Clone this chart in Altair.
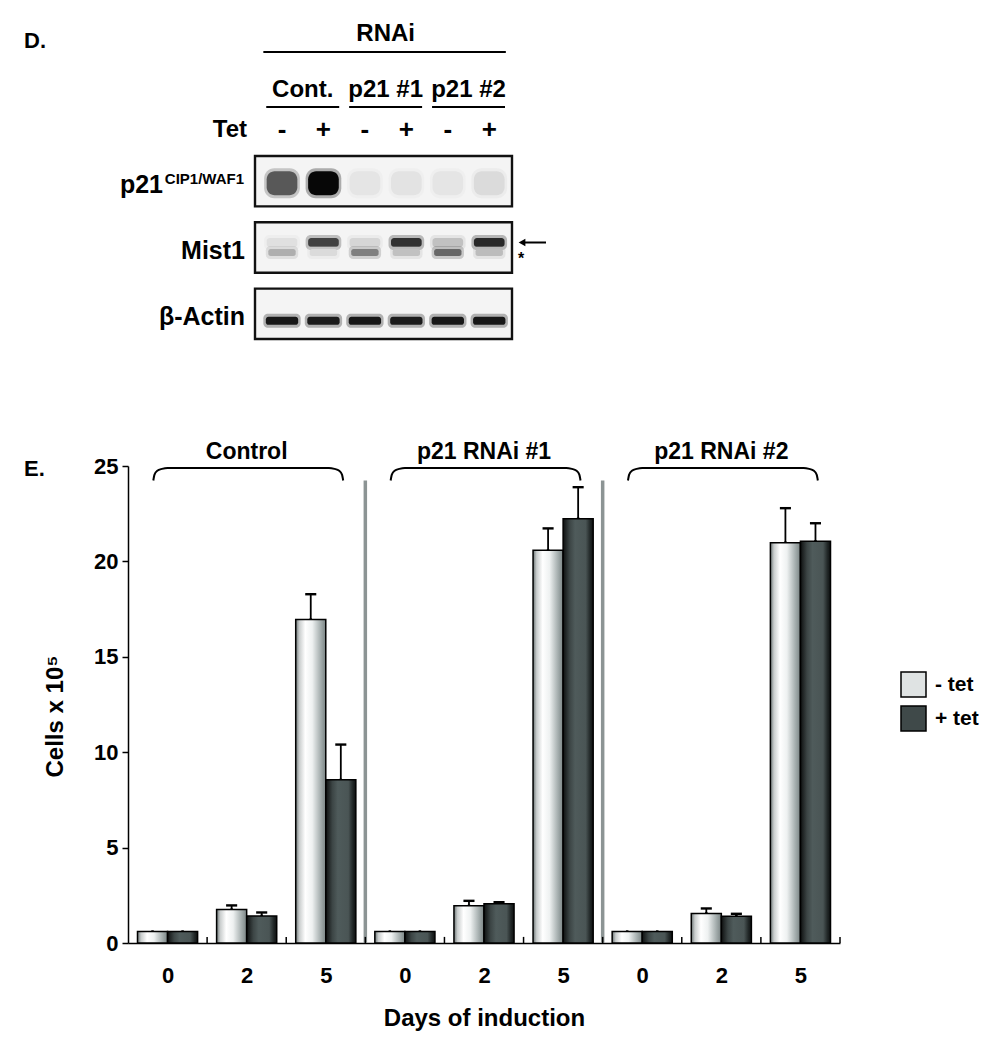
import altair as alt
import pandas as pd

FONT = "Liberation Sans"

# ---------------- Panel E data ----------------
groups = ["Control", "p21 RNAi #1", "p21 RNAi #2"]
days = ["0", "2", "5"]
series = ["- tet", "+ tet"]
minus_tet = [0.6, 1.75, 16.95, 0.6, 1.95, 20.58, 0.6, 1.55, 20.98]
minus_err = [0.0, 0.22, 1.33, 0.0, 0.26, 1.15, 0.0, 0.26, 1.81]
plus_tet = [0.6, 1.42, 8.55, 0.6, 2.06, 22.24, 0.6, 1.40, 21.05]
plus_err = [0.0, 0.18, 1.85, 0.0, 0.08, 1.65, 0.0, 0.13, 0.95]
y_ticks = [0, 5, 10, 15, 20, 25]

# ---------------- Panel D data (blot band intensities, 0..1) ----------------
lanes = [0, 1, 2, 3, 4, 5]
tet_signs = ["-", "+", "-", "+", "-", "+"]
lane_group = ["Cont.", "Cont.", "p21 #1", "p21 #1", "p21 #2", "p21 #2"]
blot_rows = ["p21", "Mist1", "β-Actin"]
p21_band = [0.62, 1.0, 0.04, 0.05, 0.04, 0.08]
mist1_upper = [0.06, 0.72, 0.10, 0.80, 0.18, 0.84]
mist1_lower = [0.25, 0.08, 0.45, 0.18, 0.55, 0.20]
actin_band = [0.93, 0.91, 0.94, 0.91, 0.93, 0.93]

# ---------------- styles ----------------
LIGHT_GRAD = alt.LinearGradient(
    gradient="linear", x1=0, x2=1, y1=0, y2=0,
    stops=[alt.GradientStop(offset=0, color="#6c7575"),
           alt.GradientStop(offset=0.12, color="#c9cdcd"),
           alt.GradientStop(offset=0.32, color="#ffffff"),
           alt.GradientStop(offset=0.55, color="#eef1f1"),
           alt.GradientStop(offset=0.82, color="#a7b0b0"),
           alt.GradientStop(offset=1, color="#7a8484")])
DARK_GRAD = alt.LinearGradient(
    gradient="linear", x1=0, x2=1, y1=0, y2=0,
    stops=[alt.GradientStop(offset=0, color="#0e1010"),
           alt.GradientStop(offset=0.22, color="#3c4545"),
           alt.GradientStop(offset=0.4, color="#4f5b5b"),
           alt.GradientStop(offset=0.75, color="#4a5555"),
           alt.GradientStop(offset=0.9, color="#212727"),
           alt.GradientStop(offset=1, color="#0e1010")])
SEP_COLOR = "#8c9494"

W_E, H_E = 712, 477
W_D, H_D = 384, 183
BOX_LEFT = 127          # blot box left edge inside panel D (px)

# ================= Panel E =================
n_cat = len(groups) * len(days)
rows = []
for i in range(n_cat):
    rows.append(dict(idx=i, s=0, series=series[0], value=minus_tet[i], err=minus_err[i]))
    rows.append(dict(idx=i, s=1, series=series[1], value=plus_tet[i], err=plus_err[i]))
bars = pd.DataFrame(rows)
bars["upper"] = bars["value"] + bars["err"]

PAD, BW, CAP = 0.12, 0.38, 0.07
x_scale = alt.Scale(domain=[0, n_cat], nice=False, zero=False)
days_js = "[" + ",".join(f"'{d}'" for d in days) + "]"
x_axis = alt.Axis(title="Days of induction", values=[i + 0.5 for i in range(n_cat)],
                  labelExpr=f"{days_js}[floor(datum.value) % {len(days)}]",
                  ticks=False, grid=False, labelPadding=22, titlePadding=20,
                  labelFontSize=22, titleFontSize=24, labelAngle=0)
y_scale = alt.Scale(domain=[0, 25], nice=False)
y_axis = alt.Axis(values=y_ticks, title="Cells x 10⁵", tickSize=6, labelPadding=4,
                  titlePadding=26, titleY=250, labelFontSize=22, titleFontSize=24, grid=False)


def X(field):
    return alt.X(f"{field}:Q", scale=x_scale, axis=x_axis)


def Y(field):
    return alt.Y(f"{field}:Q", scale=y_scale, axis=y_axis)


base = alt.Chart(bars).transform_calculate(
    x0=f"datum.idx + {PAD} + {BW} * datum.s",
    x1=f"datum.idx + {PAD} + {BW} * (datum.s + 1)",
    xc=f"datum.idx + {PAD} + {BW} * (datum.s + 0.5)",
    c0=f"datum.idx + {PAD} + {BW} * (datum.s + 0.5) - {CAP}",
    c1=f"datum.idx + {PAD} + {BW} * (datum.s + 0.5) + {CAP}")

legend_pts = base.mark_square(size=1, stroke="black", strokeWidth=1.5, filled=True, opacity=1).encode(
    x=X("xc"), y=Y("value"),
    color=alt.Color("series:N", scale=alt.Scale(domain=series, range=["#dfe3e3", "#3f4949"]),
                    legend=alt.Legend(title=None, orient="none", legendX=772, legendY=205,
                                      symbolType="square", symbolSize=625, symbolOpacity=1,
                                      symbolStrokeColor="black", symbolStrokeWidth=1.5,
                                      labelFontSize=21, labelFontWeight="bold", labelColor="black",
                                      labelOffset=8, rowPadding=3)))
light = base.transform_filter(alt.datum.series == series[0]).mark_bar(
    fill=LIGHT_GRAD, stroke="black", strokeWidth=1.5).encode(
    x=X("x0"), x2="x1:Q", y=Y("value"), y2=alt.datum(0))
dark = base.transform_filter(alt.datum.series == series[1]).mark_bar(
    fill=DARK_GRAD, stroke="black", strokeWidth=1.5).encode(
    x=X("x0"), x2="x1:Q", y=Y("value"), y2=alt.datum(0))
err_rule = base.transform_filter("datum.err > 0").mark_rule(color="black", strokeWidth=1.8).encode(
    x=X("xc"), y=Y("value"), y2="upper:Q")
err_cap = base.transform_filter("datum.err > 0").mark_rule(color="black", strokeWidth=2.4).encode(
    x=X("c0"), x2="c1:Q", y=Y("upper"))

TICK_LEN = 0.32
SEP_TOP = 24.24
boundaries = pd.DataFrame({"pos": list(range(1, n_cat + 1))})
boundaries["y0"] = 0.0
boundaries["y1"] = TICK_LEN
ticks = alt.Chart(boundaries).mark_rule(color="black", strokeWidth=1.5).encode(
    x=X("pos"), y=Y("y0"), y2="y1:Q")

seps_df = pd.DataFrame({"pos": [len(days) * k for k in range(1, len(groups))]})
seps_df["y0"] = 0.0
seps_df["y1"] = SEP_TOP
seps = alt.Chart(seps_df).mark_rule(color=SEP_COLOR, strokeWidth=3.5).encode(
    x=X("pos"), y=Y("y0"), y2="y1:Q")

# bracket shape (relative to the group start, in category units / value units)
BR_X = [0.32, 0.335, 0.37, 0.43, 0.5, 2.54, 2.61, 2.67, 2.705, 2.72]
BR_Y = [24.24, 24.55, 24.75, 24.85, 24.9, 24.9, 24.85, 24.75, 24.55, 24.24]
br_rows = []
for gi, g in enumerate(groups):
    for bx, by in zip(BR_X, BR_Y):
        br_rows.append(dict(group=g, pos=gi * len(days) + bx, y=by))
brackets = alt.Chart(pd.DataFrame(br_rows)).mark_line(
    color="black", strokeWidth=2, interpolate="monotone").encode(
    x=X("pos"), y=Y("y"), detail="group:N")

glab_df = pd.DataFrame({"group": groups,
                        "pos": [gi * len(days) + len(days) / 2 for gi in range(len(groups))]})
glabels = alt.Chart(glab_df).mark_text(fontSize=23, fontWeight="bold", baseline="middle").encode(
    x=X("pos"), y=alt.value(-14), text="group:N")

e_label = alt.Chart(pd.DataFrame({"t": ["E."]})).mark_text(
    fontSize=22, fontWeight="bold", align="left", baseline="middle").encode(
    x=alt.value(-104), y=alt.value(3), text="t:N")

panel_e = alt.layer(legend_pts, seps, ticks, light, dark, err_rule, err_cap, brackets, glabels, e_label
                    ).properties(width=W_E, height=H_E)

# ================= Panel D =================
LANE_PX = 41.45
LANE0_PX = 154
xb_scale = alt.Scale(domain=[-LANE0_PX / LANE_PX, (W_D - LANE0_PX) / LANE_PX], nice=False, zero=False)
yb_scale = alt.Scale(domain=blot_rows, paddingInner=0.24, paddingOuter=0)
YB = alt.Y("row:N", scale=yb_scale, axis=None)
band_color = alt.Scale(domain=[0, 1], range=["#f0f0f0", "#070707"])


def XB(field):
    return alt.X(f"{field}:Q", scale=xb_scale, axis=None)


boxes = alt.Chart(pd.DataFrame({"row": blot_rows})).mark_rect(
    fill="#f4f4f4", stroke="#111111", strokeWidth=2.4).encode(
    y=YB, x=alt.value(BOX_LEFT), x2=alt.value(W_D))


def band_layers(values, row, thick, dy, halfw):
    df = pd.DataFrame({"lane": lanes, "intensity": values})
    df["row"] = row
    c = alt.Chart(df).transform_calculate(
        x0=f"datum.lane - {halfw}", x1=f"datum.lane + {halfw}",
        hx0=f"datum.lane - {halfw + 0.06}", hx1=f"datum.lane + {halfw + 0.06}")
    halo = c.mark_bar(size=thick + 6, cornerRadius=(thick + 6) / 3, opacity=0.3, yOffset=dy).encode(
        x=XB("hx0"), x2="hx1:Q", y=YB,
        color=alt.Color("intensity:Q", scale=band_color, legend=None))
    core = c.mark_bar(size=thick, cornerRadius=thick / 3, yOffset=dy).encode(
        x=XB("x0"), x2="x1:Q", y=YB,
        color=alt.Color("intensity:Q", scale=band_color, legend=None))
    return [halo, core]


bands = (band_layers(p21_band, "p21", 24, 2, 0.37)
         + band_layers(mist1_upper, "Mist1", 9, -5, 0.37)
         + band_layers(mist1_lower, "Mist1", 7, 5, 0.33)
         + band_layers(actin_band, "β-Actin", 8, 7, 0.39))

lane_df = pd.DataFrame({"lane": lanes, "sign": tet_signs})
signs = alt.Chart(lane_df).mark_text(fontSize=26, fontWeight="bold", baseline="middle").encode(
    x=XB("lane"), y=alt.value(-26), text="sign:N")

grp_df = (pd.DataFrame({"group": lane_group, "lane": lanes})
          .groupby("group", sort=False)["lane"].agg(["min", "max"]).reset_index()
          .rename(columns={"min": "lmin", "max": "lmax"}))
grp_base = alt.Chart(grp_df).transform_calculate(
    mid="(datum.lmin + datum.lmax) / 2", u0="datum.lmin - 0.38", u1="datum.lmax + 0.38")
grp_text = grp_base.mark_text(fontSize=24, fontWeight="bold", baseline="middle").encode(
    x=XB("mid"), y=alt.value(-66), text="group:N")
grp_line = grp_base.mark_rule(strokeWidth=2.2, color="black").encode(
    x=XB("u0"), x2="u1:Q", y=alt.value(-49))

rnai_df = pd.DataFrame({"label": ["RNAi"], "lmin": [min(lanes)], "lmax": [max(lanes)]})
rnai_base = alt.Chart(rnai_df).transform_calculate(
    mid="(datum.lmin + datum.lmax) / 2", u0="datum.lmin - 0.45", u1="datum.lmax + 0.4")
rnai_text = rnai_base.mark_text(fontSize=24, fontWeight="bold", baseline="middle").encode(
    x=XB("mid"), y=alt.value(-122), text="label:N")
rnai_line = rnai_base.mark_rule(strokeWidth=2.2, color="black").encode(
    x=XB("u0"), x2="u1:Q", y=alt.value(-104))

tet_text = alt.Chart(pd.DataFrame({"t": ["Tet"]})).mark_text(
    fontSize=24, fontWeight="bold", align="right", baseline="middle").encode(
    x=alt.value(BOX_LEFT - 8), y=alt.value(-26), text="t:N")

rl_df = pd.DataFrame({"row": ["Mist1", "β-Actin"], "label": ["Mist1", "β-Actin"]})
row_labels = alt.Chart(rl_df).mark_text(
    fontSize=25, fontWeight="bold", align="right", baseline="middle", dy=3).encode(
    x=alt.value(BOX_LEFT - 10), y=YB, text="label:N")
p21_df = pd.DataFrame({"row": ["p21"], "main": ["p21"], "sup": ["CIP1/WAF1"]})
p21_main = alt.Chart(p21_df).mark_text(
    fontSize=25, fontWeight="bold", align="right", baseline="middle", dy=4).encode(
    x=alt.value(BOX_LEFT - 92), y=YB, text="main:N")
p21_sup = alt.Chart(p21_df).mark_text(
    fontSize=15, fontWeight="bold", align="right", baseline="middle", dy=-2).encode(
    x=alt.value(BOX_LEFT - 11), y=YB, text="sup:N")

mist_df = pd.DataFrame({"row": ["Mist1"], "star": ["*"]})
arrow_line = alt.Chart(mist_df).mark_rule(strokeWidth=2, color="black", yOffset=-5).encode(
    x=alt.value(W_D + 10), x2=alt.value(W_D + 34), y=YB)
arrow_head = alt.Chart(mist_df).mark_point(
    shape="triangle-left", filled=True, size=60, color="black", opacity=1, yOffset=-5).encode(
    x=alt.value(W_D + 10), y=YB)
star = alt.Chart(mist_df).mark_text(
    fontSize=16, fontWeight="bold", align="left", baseline="middle", dy=11).encode(
    x=alt.value(W_D + 6), y=YB, text="star:N")

d_label = alt.Chart(pd.DataFrame({"t": ["D."]})).mark_text(
    fontSize=22, fontWeight="bold", align="left", baseline="middle").encode(
    x=alt.value(-104), y=alt.value(-115), text="t:N")

panel_d = alt.layer(boxes, *bands, signs, grp_text, grp_line, rnai_text, rnai_line, tet_text,
                    row_labels, p21_main, p21_sup, arrow_line, arrow_head, star, d_label
                    ).properties(width=W_D, height=H_D)

chart = alt.vconcat(panel_d, panel_e, spacing=100).properties(
    padding={"left": 16, "top": 14, "right": 5, "bottom": 5}
).configure(font=FONT).configure_view(strokeWidth=0).configure_axis(
    labelFont=FONT, titleFont=FONT, labelFontWeight="bold", titleFontWeight="bold",
    labelColor="black", titleColor="black", domainColor="black", tickColor="black",
    domainWidth=1.5, tickWidth=1.5, grid=False
).configure_legend(labelFont=FONT).configure_text(font=FONT, color="black")

chart.save("out.html", embed_options={"renderer": "svg", "actions": False})
